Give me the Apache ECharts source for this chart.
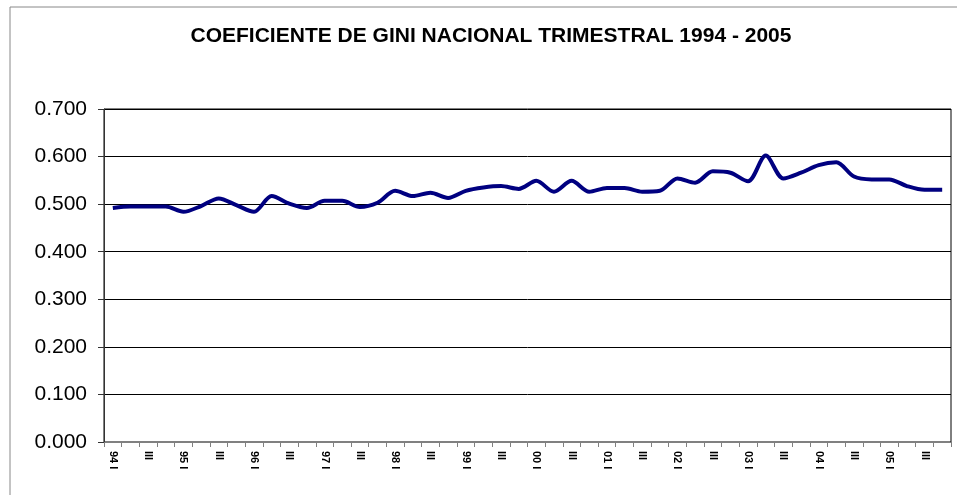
<!DOCTYPE html>
<html>
<head>
<meta charset="utf-8">
<script src="https://cdn.jsdelivr.net/npm/echarts@6/dist/echarts.min.js"></script>
<style>
  html, body { margin: 0; padding: 0; background: #fff; }
  #chart { width: 957px; height: 495px; }
</style>
</head>
<body>
<div id="chart"></div>
<script>
const years = ['94', '95', '96', '97', '98', '99', '00', '01', '02', '03', '04', '05'];
const quarters = ['I', 'II', 'III', 'IV'];
const yTicks = [0, 0.1, 0.2, 0.3, 0.4, 0.5, 0.6, 0.7];

// Gini trimestral, 1994 I .. 2005 IV
const gini = [
  0.492, 0.495, 0.495, 0.495, 0.484, 0.496, 0.512, 0.498,
  0.484, 0.517, 0.501, 0.492, 0.507, 0.507, 0.494, 0.503,
  0.528, 0.517, 0.524, 0.513, 0.528, 0.535, 0.538, 0.532,
  0.549, 0.526, 0.549, 0.526, 0.534, 0.534, 0.526, 0.528,
  0.554, 0.545, 0.569, 0.566, 0.548, 0.602, 0.554, 0.566,
  0.582, 0.588, 0.558, 0.552, 0.552, 0.538, 0.530, 0.530
];

const categories = [];
years.forEach(y => {
  quarters.forEach((q, i) => categories.push(i === 0 ? y + ' I' : q));
});

const chart = echarts.init(document.getElementById('chart'));

chart.setOption({
  animation: false,
  backgroundColor: '#fff',
  textStyle: { fontFamily: 'Liberation Sans, Arial, sans-serif' },
  graphic: [
    {
      type: 'rect',
      shape: { x: 10, y: 7, width: 970, height: 510 },
      style: { fill: 'none', stroke: '#888', lineWidth: 1 },
      silent: true
    },
    {
      type: 'text',
      x: 491,
      y: 36,
      style: {
        text: 'COEFICIENTE DE GINI NACIONAL TRIMESTRAL 1994 - 2005',
        font: 'bold 21px "Liberation Sans", Arial, sans-serif',
        fill: '#000',
        align: 'center',
        verticalAlign: 'middle'
      }
    }
  ],
  grid: {
    left: 104,
    top: 109,
    width: 847,
    height: 333,
    show: true,
    borderColor: '#000',
    borderWidth: 1
  },
  xAxis: {
    type: 'category',
    data: categories,
    boundaryGap: true,
    axisLine: { lineStyle: { color: '#808080', width: 1 } },
    axisTick: { show: true, interval: 0, length: 5, lineStyle: { color: '#808080' } },
    axisLabel: {
      interval: 1,
      rotate: -90,
      margin: 9,
      fontSize: 11,
      fontWeight: 'bold',
      color: '#000'
    },
    splitLine: { show: false }
  },
  yAxis: {
    type: 'value',
    min: yTicks[0],
    max: yTicks[yTicks.length - 1],
    interval: 0.1,
    axisLine: { show: true, lineStyle: { color: '#333', width: 1 } },
    axisTick: { show: true, length: 6, lineStyle: { color: '#333' } },
    axisLabel: {
      fontSize: 21,
      color: '#000',
      margin: 17,
      formatter: v => v.toFixed(3)
    },
    splitLine: { show: true, lineStyle: { color: '#000', width: 1 } }
  },
  series: [
    {
      type: 'line',
      data: gini,
      smooth: 0.3,
      showSymbol: false,
      lineStyle: { color: '#000080', width: 4 }
    }
  ]
});
</script>
</body>
</html>
